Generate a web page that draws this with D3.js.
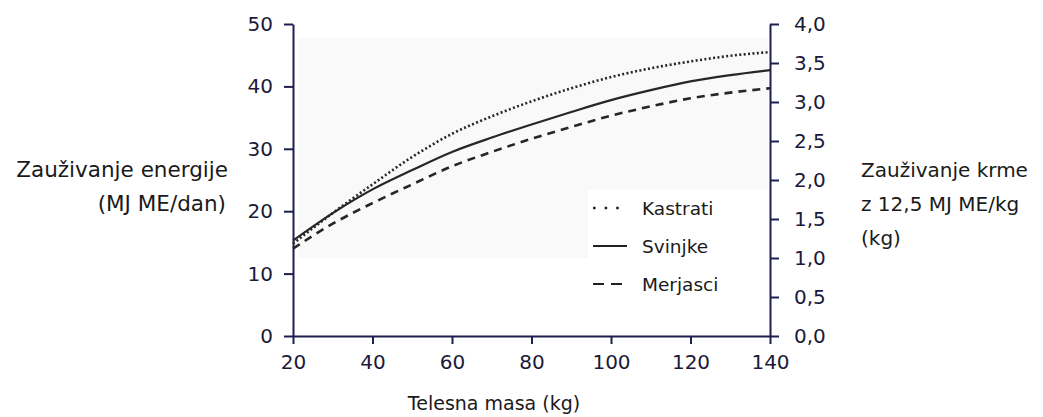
<!DOCTYPE html>
<html><head><meta charset="utf-8">
<script src="https://cdn.jsdelivr.net/npm/d3@7"></script>
<style>body{margin:0;background:#fff;}svg{display:block;font-family:"DejaVu Sans",sans-serif;}</style>
</head><body><svg id="c" width="1043" height="417"></svg>
<script>
const mass = [20,30,40,50,60,70,80,90,100,110,120,130,140];
const kastrati = [14.8,19.7,24.3,28.7,32.4,35.2,37.6,39.7,41.5,42.9,44.0,44.9,45.5];
const svinjke  = [15.3,19.7,23.5,26.6,29.5,31.8,33.9,35.9,37.8,39.4,40.8,41.8,42.6];
const merjasci = [14.0,18.0,21.3,24.3,27.2,29.5,31.6,33.5,35.3,36.8,38.1,39.0,39.7];
const xTicks = [20,40,60,80,100,120,140];
const yTicks = [0,10,20,30,40,50];
const y2Ticks = [0,0.5,1,1.5,2,2.5,3,3.5,4];
const seriesNames = ["Kastrati","Svinjke","Merjasci"];
const seriesData = [kastrati, svinjke, merjasci];
const dashes = ["2,2.4","none","8,6"];
const widths = [2.6,2.2,2.6];

const svg = d3.select("#c");
const navy = "#1f1f4f";
const x = d3.scaleLinear().domain([20,140]).range([293,770]);
const y = d3.scaleLinear().domain([0,50]).range([336,24]);
const y2 = d3.scaleLinear().domain([0,4]).range([336,24]);

// faint scanned background
svg.append("rect").attr("x",298).attr("y",38).attr("width",470).attr("height",220).attr("fill","#f9f9f9");
svg.append("rect").attr("x",588).attr("y",190).attr("width",180).attr("height",70).attr("fill","#fff");

function styleAxis(g){
  g.select(".domain").attr("stroke",navy).attr("stroke-width",2);
  g.selectAll(".tick line").attr("stroke",navy).attr("stroke-width",2);
  g.selectAll(".tick text").attr("fill","#1a1a3a").style("font-size","20px").style("font-family","DejaVu Sans, sans-serif");
}
const fmt2 = v => d3.format(".1f")(v).replace(".",",");

svg.append("g").attr("transform","translate(0,336)")
  .call(d3.axisBottom(x).tickValues(xTicks).tickSize(8).tickSizeOuter(0).tickPadding(11))
  .call(styleAxis);
svg.append("g").attr("transform","translate(293,0)")
  .call(d3.axisLeft(y).tickValues(yTicks).tickSize(9).tickSizeOuter(0).tickPadding(11))
  .call(styleAxis);
svg.append("g").attr("transform","translate(770,0)")
  .call(d3.axisRight(y2).tickValues(y2Ticks).tickFormat(fmt2).tickSize(9).tickSizeOuter(0).tickPadding(15))
  .call(styleAxis);

const line = d3.line().x((d,i)=>x(mass[i])).y(d=>y(d)).curve(d3.curveMonotoneX);
seriesData.forEach((s,k)=>{
  svg.append("path").datum(s).attr("d",line).attr("fill","none")
    .attr("stroke","#262626").attr("stroke-width",widths[k])
    .attr("stroke-dasharray",dashes[k]);
});

// legend
const legY = [208,246,284];
seriesNames.forEach((n,k)=>{
  svg.append("line").attr("x1",593).attr("x2",627).attr("y1",legY[k]).attr("y2",legY[k])
    .attr("stroke","#222").attr("stroke-width",k===0?2.6:2)
    .attr("stroke-dasharray",k===0?"2.6,9":(k===2?"11,7":"none"));
  svg.append("text").attr("x",642).attr("y",legY[k]+7).text(n)
    .attr("fill","#1a1a1a").style("font-size","18.5px");
});

// titles
const tl = svg.append("text").attr("text-anchor","end").attr("fill","#1a1a1a").style("font-size","21.5px");
tl.append("tspan").attr("x",228).attr("y",177).text("Zauživanje energije");
tl.append("tspan").attr("x",226).attr("y",211).text("(MJ ME/dan)");
const tr = svg.append("text").attr("text-anchor","start").attr("fill","#1a1a1a").style("font-size","20px");
tr.append("tspan").attr("x",861).attr("y",177).text("Zauživanje krme");
tr.append("tspan").attr("x",861).attr("y",211).text("z 12,5 MJ ME/kg");
tr.append("tspan").attr("x",861).attr("y",245).text("(kg)");
svg.append("text").attr("x",494).attr("y",410).attr("text-anchor","middle")
  .attr("fill","#1a1a1a").style("font-size","19px").text("Telesna masa (kg)");
</script></body></html>
